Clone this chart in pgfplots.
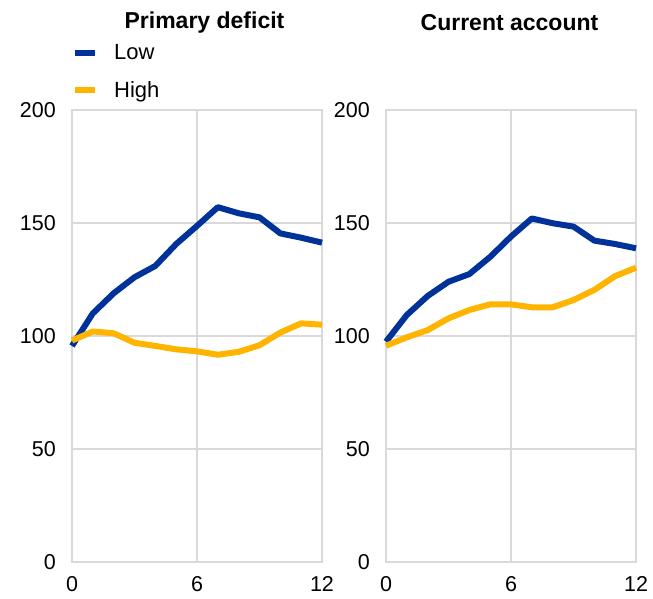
\documentclass[border=0pt]{standalone}
\usepackage{pgfplots}
\pgfplotsset{compat=1.18}
\usepackage{fontspec}
\setmainfont{Liberation Sans}
\definecolor{ecbblue}{RGB}{0,50,153}
\definecolor{ecbyellow}{RGB}{255,180,0}
\definecolor{gridgray}{RGB}{217,217,217}
\pgfplotstableread{
x low high
0 95.6 98.0
1 110.0 102.0
2 118.9 101.2
3 126.0 97.0
4 131.0 95.6
5 140.7 94.1
6 148.7 93.2
7 157.0 91.7
8 154.3 93.0
9 152.5 95.9
10 145.4 101.5
11 143.5 105.6
12 141.3 105.0
}\primary
\pgfplotstableread{
x low high
0 97.5 95.7
1 109.3 99.4
2 117.7 102.6
3 124.0 107.8
4 127.4 111.5
5 135.0 114.0
6 144.0 114.0
7 152.0 112.7
8 149.9 112.7
9 148.4 115.9
10 142.2 120.4
11 140.7 126.5
12 138.8 130.2
}\current
\pgfplotsset{
  ecbaxis/.style={
    scale only axis,
    width=250pt, height=452pt,
    xmin=0, xmax=12, ymin=0, ymax=200,
    xtick={0,6,12}, ytick={0,50,100,150,200},
    grid=major,
    grid style={gridgray, line width=1.2pt},
    axis line style={gridgray, line width=1.2pt},
    major tick length=0pt,
    tick label style={font=\fontsize{21.5}{25}\selectfont},
    /pgf/number format/assume math mode=true,
    yticklabel style={inner sep=0pt, xshift=-16pt},
    xticklabel style={inner sep=0pt, yshift=-14pt},
    clip=false,
    every axis plot/.append style={line width=6pt, line join=round},
  }
}
\begin{document}
\begin{tikzpicture}
\useasboundingbox (-72pt,-37pt) rectangle (581pt,562pt);
\begin{axis}[ecbaxis,
  title={Primary deficit},
  title style={at={(0.53,1.181)}, anchor=center, inner sep=0pt, font=\bfseries\fontsize{23}{27}\selectfont},
  legend style={at={(0.0,1.145)}, anchor=north west, draw=none, fill=none,
    font=\fontsize{22}{25}\selectfont, row sep=20pt, inner sep=0pt,
    nodes={inner sep=0pt, anchor=west}},
  legend cell align=left,
  legend image code/.code={\draw[#1, line width=6pt, line cap=butt] (0pt,0pt) -- (20pt,0pt);
    \path[draw=none] (0pt,0pt) -- (39pt,0pt);},
]
\addplot[ecbblue] table[x=x, y=low] {\primary};
\addlegendentry{Low}
\addplot[ecbyellow] table[x=x, y=high] {\primary};
\addlegendentry{High}
\end{axis}
\begin{axis}[ecbaxis, at={(314pt,0pt)},
  title={Current account},
  title style={at={(0.494,1.181)}, anchor=center, inner sep=0pt, font=\bfseries\fontsize{23}{27}\selectfont},
]
\addplot[ecbblue] table[x=x, y=low] {\current};
\addplot[ecbyellow] table[x=x, y=high] {\current};
\end{axis}
\end{tikzpicture}
\end{document}
